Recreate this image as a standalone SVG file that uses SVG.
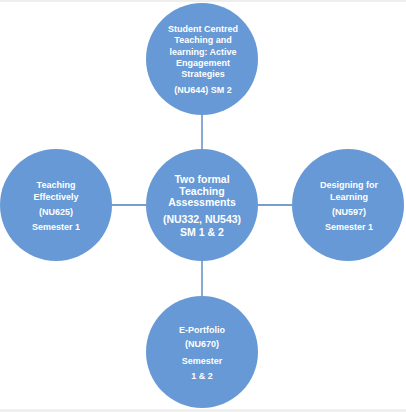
<svg xmlns="http://www.w3.org/2000/svg" width="406" height="412" viewBox="0 0 406 412">
<style>
.node{fill:#6699d5;}
.t{font-family:"Liberation Sans",Arial,sans-serif;font-weight:bold;font-size:9px;fill:#ffffff;text-anchor:middle;}
.tc{font-size:10.5px;}
.conn line{stroke:#4a7ebb;stroke-width:1.3;}
</style>
<rect x="0" y="0" width="406" height="412" fill="#ffffff"/>
<rect x="0" y="0" width="406" height="2" fill="#eeeeee"/>
<rect x="0" y="409" width="406" height="3" fill="#f0f0f0"/>
<g id="connectors" class="conn">
<line x1="202" y1="115" x2="202" y2="149"/>
<line x1="202" y1="261" x2="202" y2="296"/>
<line x1="112" y1="205" x2="146" y2="205"/>
<line x1="258" y1="205" x2="292" y2="205"/>
</g>
<g id="node-top">
<circle class="node" cx="202" cy="59" r="56"/>
<text class="t" x="203" y="31.5">Student Centred</text>
<text class="t" x="203" y="43">Teaching and</text>
<text class="t" x="203" y="54.5">learning: Active</text>
<text class="t" x="203" y="66">Engagement</text>
<text class="t" x="203" y="77">Strategies</text>
<text class="t" x="203" y="93">(NU644) SM 2</text>
</g>
<g id="node-center">
<circle class="node" cx="202" cy="205" r="56"/>
<text class="t tc" x="202" y="183">Two formal</text>
<text class="t tc" x="202" y="194.5">Teaching</text>
<text class="t tc" x="202" y="206">Assessments</text>
<text class="t tc" x="202" y="223">(NU332, NU543)</text>
<text class="t tc" x="202" y="235.5">SM 1 &amp; 2</text>
</g>
<g id="node-left">
<circle class="node" cx="56" cy="205" r="56"/>
<text class="t" x="56" y="187.5">Teaching</text>
<text class="t" x="56" y="199.5">Effectively</text>
<text class="t" x="56" y="214.5">(NU625)</text>
<text class="t" x="56" y="229.5">Semester 1</text>
</g>
<g id="node-right">
<circle class="node" cx="348" cy="205" r="56"/>
<text class="t" x="349" y="187.5">Designing for</text>
<text class="t" x="349" y="199.5">Learning</text>
<text class="t" x="349" y="214.5">(NU597)</text>
<text class="t" x="349" y="229.5">Semester 1</text>
</g>
<g id="node-bottom">
<circle class="node" cx="202" cy="352" r="56"/>
<text class="t" x="202" y="332.5">E-Portfolio</text>
<text class="t" x="202" y="347">(NU670)</text>
<text class="t" x="202" y="363.5">Semester</text>
<text class="t" x="202" y="378.5">1 &amp; 2</text>
</g>
</svg>
